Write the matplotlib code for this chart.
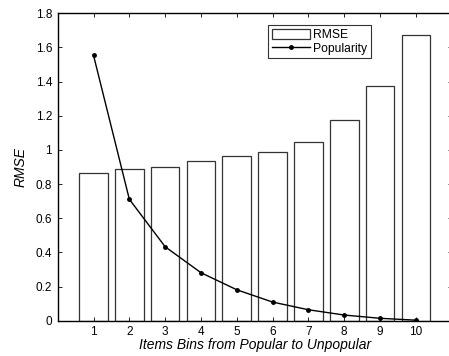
import matplotlib
matplotlib.use("Agg")
import matplotlib.pyplot as plt

bins = [1, 2, 3, 4, 5, 6, 7, 8, 9, 10]
rmse = [0.863, 0.886, 0.898, 0.935, 0.964, 0.990, 1.044, 1.175, 1.376, 1.671]
popularity = [1.554, 0.711, 0.433, 0.281, 0.181, 0.109, 0.064, 0.033, 0.014, 0.003]
yticks = [0, 0.2, 0.4, 0.6, 0.8, 1, 1.2, 1.4, 1.6, 1.8]
ytick_labels = ["0", "0.2", "0.4", "0.6", "0.8", "1", "1.2", "1.4", "1.6", "1.8"]

plt.rcParams['font.family'] = ['Liberation Sans', 'DejaVu Sans']

fig = plt.figure(figsize=(4.49, 3.56), dpi=100)
ax = fig.add_axes([0.1285, 0.0992, 0.8775, 0.8634])

bars = ax.bar(bins, rmse, width=0.8, facecolor='white', edgecolor='#333333', linewidth=0.9, label='RMSE')
line, = ax.plot(bins, popularity, color='black', linewidth=1.0, marker='o', markersize=2.5, label='Popularity')

ax.set_xlim(0, 11)
ax.set_ylim(0, 1.8)
ax.set_xticks(bins)
ax.set_xticklabels([str(b) for b in bins], fontsize=8.5)
ax.set_yticks(yticks)
ax.set_yticklabels(ytick_labels, fontsize=8.5)
ax.tick_params(direction='in', length=3, width=0.6, top=True, right=True, pad=4)
for s in ax.spines.values():
    s.set_linewidth(1.0)

ax.set_xlabel('Items Bins from Popular to Unpopular', fontsize=10, style='italic', labelpad=0)
ax.set_ylabel('RMSE', fontsize=10, style='italic', labelpad=6)

leg = ax.legend([bars, line], ['RMSE', 'Popularity'], loc='upper left',
                bbox_to_anchor=(0.534, 0.962), fontsize=8.7,
                frameon=True, fancybox=False, edgecolor='black', borderpad=0.3,
                handlelength=3.2, handleheight=0.9, handletextpad=0.2, labelspacing=0.15,
                borderaxespad=0)
leg.get_frame().set_linewidth(0.8)

fig.savefig('out.png', dpi=100)
